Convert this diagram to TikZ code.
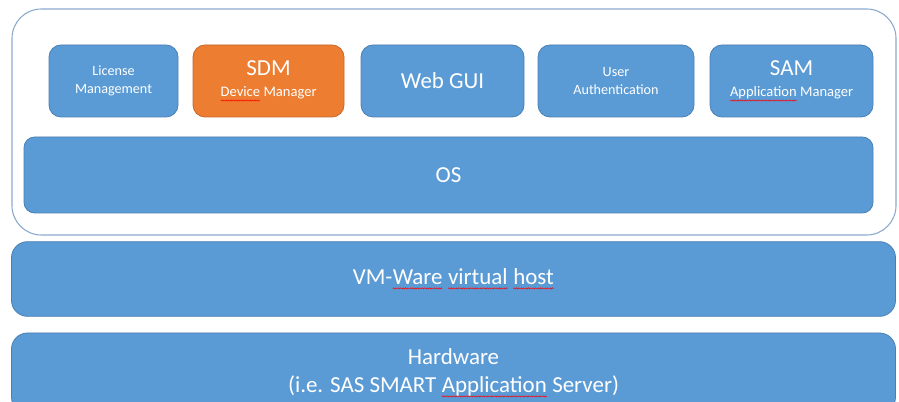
\documentclass[tikz,border=0pt]{standalone}
\usepackage{fontspec}
\setmainfont{Carlito}
\usetikzlibrary{decorations.pathmorphing}
\definecolor{boxblue}{HTML}{5B9BD5}
\definecolor{boxedge}{HTML}{4A7FB5}
\definecolor{boxorange}{HTML}{ED7D31}
\definecolor{orangeedge}{HTML}{C5692A}
\definecolor{outeredge}{HTML}{8AA9CC}
\newcommand\sqw[1]{\tikz[baseline=(w.base),sharp corners]{\node[rectangle,draw=none,fill=none,inner sep=0pt,outer sep=0pt,minimum width=0pt,minimum height=0pt](w){#1};\draw[red,line width=0.35pt,sharp corners,decorate,decoration={snake,amplitude=0.45pt,segment length=1.8pt}]([yshift=-2.8pt]w.base west)--([yshift=-2.8pt]w.base east);}}
\tikzset{
  layerbox/.style={draw=boxedge,line width=0.6pt,fill=boxblue,text=white,align=center,inner sep=0pt},
  appbox/.style={layerbox,rounded corners=9pt,minimum height=54pt},
  bigtxt/.style={font=\fontsize{17.2}{20}\selectfont},
}
\begin{document}
\begin{tikzpicture}[x=0.75pt,y=-0.75pt]
\useasboundingbox (0,0) rectangle (899,402);
\clip (0,0) rectangle (899,402);
% outer container
\node[draw=outeredge,line width=0.8pt,rounded corners=22pt,minimum width=663pt,minimum height=169.5pt,inner sep=0pt] (vm) at (454,122) {};
% application boxes
\node[appbox,minimum width=96.75pt,font=\fontsize{10.6}{13.5}\selectfont] (lic) at (113.5,81) {License\\Management};
\node[appbox,minimum width=113.25pt,fill=boxorange,draw=orangeedge] (sdm) at (268.5,81) {{\fontsize{17.2}{18}\selectfont SDM}\\[4pt]{\fontsize{10.9}{13}\selectfont \sqw{Device} Manager}};
\node[appbox,minimum width=122.25pt,bigtxt] (gui) at (442.5,81) {Web GUI};
\node[appbox,minimum width=117pt,font=\fontsize{10.6}{13.5}\selectfont] (auth) at (616,81) {User\\Authentication};
\node[appbox,minimum width=122.25pt] (sam) at (791.5,81) {{\fontsize{17.2}{18}\selectfont SAM}\\[4pt]{\fontsize{10.9}{13}\selectfont \sqw{Application} Manager}};
% OS
\node[layerbox,rounded corners=8pt,minimum width=636.75pt,minimum height=57pt,bigtxt] (os) at (448.5,175) {OS};
% VM-Ware
\node[layerbox,rounded corners=12pt,minimum width=663pt,minimum height=56pt,bigtxt] (host) at (453.5,279) {VM-\sqw{Ware} \sqw{virtual} \sqw{host}};
% Hardware
\node[layerbox,rounded corners=12pt,minimum width=663pt,minimum height=60pt,font=\fontsize{17.2}{21}\selectfont] (hw) at (453.5,373) {Hardware\\(i.e. SAS SMART \sqw{Application} Server)};
\end{tikzpicture}
\end{document}
